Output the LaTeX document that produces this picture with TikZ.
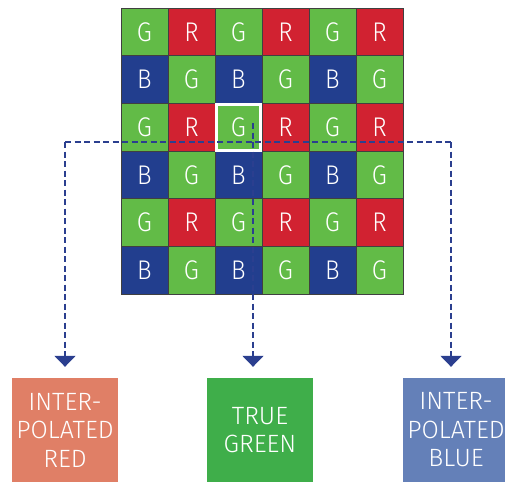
\documentclass[tikz,border=0pt]{standalone}
\usepackage{fontspec}
\setmainfont{Fira Sans}[UprightFont={* Light}]
\usetikzlibrary{arrows.meta}
\definecolor{gG}{HTML}{62BB47}
\definecolor{gR}{HTML}{D12231}
\definecolor{gB}{HTML}{223E8E}
\definecolor{lineB}{HTML}{2B3F8F}
\definecolor{boxR}{HTML}{E07F66}
\definecolor{boxG}{HTML}{3FAE4A}
\definecolor{boxB}{HTML}{6480B8}
\begin{document}
\begin{tikzpicture}[x=1pt,y=-1pt,
  cell/.style={draw=black!75, line width=0.8pt, minimum width=47pt, minimum height=47.7pt,
    inner sep=0pt, text=white, font=\fontsize{27}{27}\selectfont},
  outbox/.style={minimum width=106pt, minimum height=104pt, inner sep=0pt, text=white,
    align=center, font=\fontsize{25}{28.5}\selectfont},
  conn/.style={draw=lineB, line width=1.6pt, dash pattern=on 6pt off 3.5pt},
  arrowtip/.style={-{Triangle[width=21pt,length=11pt,fill=lineB]}}]
\useasboundingbox (0,0) rectangle (505,482);
\foreach \myr in {0,...,5}{
  \foreach \myc in {0,...,5}{
    \pgfmathtruncatemacro\rmod{mod(\myr,2)}
    \pgfmathtruncatemacro\cmod{mod(\myc,2)}
    \ifnum\rmod=0 \ifnum\cmod=0 \def\L{G}\else\def\L{R}\fi
    \else \ifnum\cmod=0 \def\L{B}\else\def\L{G}\fi\fi
    \node[cell, fill=g\L] (c\myr\myc) at ({144.5+47*\myc},{31.85+47.7*\myr}) {\scalebox{0.9}[1]{\L}};
  }
}
\draw[white, line width=3pt] ([shift={(1.5pt,-1.5pt)}]c22.north west) rectangle ([shift={(-1.5pt,1.5pt)}]c22.south east);
\node[outbox, fill=boxR] (red) at (65,430) {INTER-\\POLATED\\RED};
\node[outbox, fill=boxG] (green) at (260,430) {TRUE\\GREEN};
\node[outbox, fill=boxB] (blue) at (456,430) {INTER-\\POLATED\\BLUE};
\coordinate (hl) at (65,142);
\coordinate (hr) at (451,142);
\coordinate (vt) at (253,123);
\draw[conn] (hl) -- (hr);
\draw[conn, arrowtip, shorten >=11pt] (hl) -- (hl |- red.north);
\draw[conn, arrowtip, shorten >=11pt] (hr) -- (hr |- blue.north);
\draw[conn, arrowtip, shorten >=11pt] (vt) -- (vt |- green.north);
\end{tikzpicture}
\end{document}
